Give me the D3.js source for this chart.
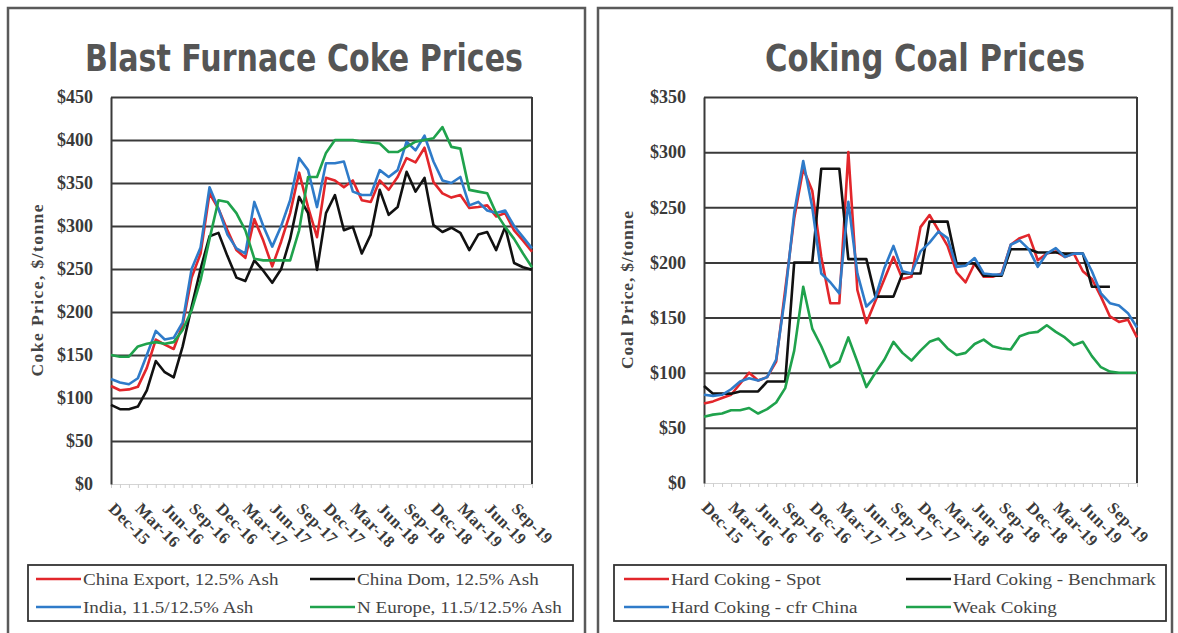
<!DOCTYPE html>
<html>
<head>
<meta charset="utf-8">
<script src="https://cdn.jsdelivr.net/npm/d3@7"></script>
<style>
  body { margin: 0; background: #fff; }
  svg { display: block; }
</style>
</head>
<body>
<svg id="chart" width="1178" height="633"></svg>
<script>
// quarterly tick labels shared by both charts (monthly points, Dec-15 onwards)
const tickLabels = ["Dec-15","Mar-16","Jun-16","Sep-16","Dec-16","Mar-17","Jun-17","Sep-17",
  "Dec-17","Mar-18","Jun-18","Sep-18","Dec-18","Mar-19","Jun-19","Sep-19"];

// Blast furnace coke, $/tonne, Dec-15 .. Nov-19
const cokeChinaExport = [114,109,110,113,135,168,162,157,185,240,268,338,320,295,272,263,308,283,253,282,
  315,362,322,287,356,353,345,353,330,328,353,342,357,379,374,391,351,338,333,336,321,322,324,311,315,295,283,270];
const cokeChinaDom = [92,87,87,90,109,143,130,124,160,206,250,288,292,265,240,236,260,248,234,250,
  285,334,315,249,315,336,295,299,268,290,342,313,322,363,340,356,301,293,298,292,272,290,293,272,299,257,252,249];
const cokeIndia = [122,118,116,123,150,178,168,170,188,250,275,345,320,290,274,268,328,300,276,300,
  330,379,365,322,373,373,375,340,336,336,365,357,365,398,388,405,375,353,350,357,324,328,318,315,318,300,287,274];
const cokeNEurope = [150,148,148,160,163,165,163,165,179,202,237,285,330,328,315,295,262,260,260,260,
  260,295,357,357,385,400,400,400,398,397,396,386,386,392,398,400,402,415,392,390,342,340,338,315,299,285,268,252];

// Coking coal, $/tonne, Dec-15 .. Dec-19
const coalSpot = [72,74,77,80,90,100,93,96,110,175,240,285,265,205,163,163,300,175,145,165,
  185,205,185,187,232,243,229,215,191,182,199,187,187,190,216,222,225,202,208,210,205,208,192,185,169,151,146,148,132];
const coalBenchmark = [88,81,81,81,83,83,83,92,92,92,200,200,200,285,285,285,203,203,203,169,
  169,169,190,190,190,237,237,237,199,199,199,188,188,188,212,212,212,209,209,209,208,208,208,178,178,178,null,null,null];
const coalCfrChina = [80,79,80,85,92,95,93,96,112,170,245,292,250,190,182,172,255,190,160,168,
  195,215,192,190,210,218,228,222,196,197,204,190,189,189,216,220,212,196,208,213,205,208,208,192,172,163,161,154,141];
const coalWeak = [60,62,63,66,66,68,63,67,73,86,120,178,140,124,105,110,132,110,87,100,
  112,128,118,111,120,128,131,122,116,118,126,130,124,122,121,133,136,137,143,137,132,125,128,115,105,101,100,100,100];

const RED = "#e2262b", BLACK = "#111", BLUE = "#2f7bc9", GREEN = "#1fa24c";
const SERIF = "Liberation Serif, Times New Roman, serif";

const svg = d3.select("#chart");

const panels = [
  {
    frame: { x: 8, y: 8, w: 577, h: 650 },
    plot: { left: 111, top: 97, right: 532, bottom: 484 },
    yMax: 450,
    title: "Blast Furnace Coke Prices", titleX: 304, titleLen: 438,
    yTitle: "Coke Price, $/tonne", yTitleX: 43, yTitleLen: 172,
    legend: { x: 28, y: 565, w: 545, h: 56, first: 36, col2: 274 },
    series: [
      { name: "China Export, 12.5% Ash", values: cokeChinaExport, color: RED },
      { name: "China Dom, 12.5% Ash", values: cokeChinaDom, color: BLACK },
      { name: "India, 11.5/12.5% Ash", values: cokeIndia, color: BLUE },
      { name: "N Europe, 11.5/12.5% Ash", values: cokeNEurope, color: GREEN }
    ]
  },
  {
    frame: { x: 598, y: 8, w: 574, h: 650 },
    plot: { left: 704, top: 97, right: 1137, bottom: 483 },
    yMax: 350,
    title: "Coking Coal Prices", titleX: 925, titleLen: 320,
    yTitle: "Coal Price, $/tonne", yTitleX: 633, yTitleLen: 158,
    legend: { x: 614, y: 565, w: 552, h: 56, first: 624, col2: 282 },
    series: [
      { name: "Hard Coking - Spot", values: coalSpot, color: RED },
      { name: "Hard Coking - Benchmark", values: coalBenchmark, color: BLACK },
      { name: "Hard Coking - cfr China", values: coalCfrChina, color: BLUE },
      { name: "Weak Coking", values: coalWeak, color: GREEN }
    ]
  }
];

panels.forEach(p => {
  const g = svg.append("g");
  const n = p.series[0].values.length;

  // panel border
  g.append("rect")
    .attr("x", p.frame.x).attr("y", p.frame.y)
    .attr("width", p.frame.w).attr("height", p.frame.h)
    .attr("fill", "#fff").attr("stroke", "#5a5a5a").attr("stroke-width", 2.5);

  g.append("text")
    .attr("x", p.titleX).attr("y", 71)
    .attr("text-anchor", "middle")
    .attr("font-family", "DejaVu Sans, Verdana, sans-serif")
    .attr("font-weight", "bold").attr("font-size", 37)
    .attr("fill", "#555")
    .attr("textLength", p.titleLen).attr("lengthAdjust", "spacingAndGlyphs")
    .text(p.title);

  const x = d3.scaleLinear().domain([0, n - 1]).range([p.plot.left, p.plot.right]);
  const y = d3.scaleLinear().domain([0, p.yMax]).range([p.plot.bottom, p.plot.top]);
  const yTicks = d3.range(0, p.yMax + 1, 50);

  // gridlines
  g.append("g")
    .attr("transform", `translate(${p.plot.left},0)`)
    .call(d3.axisLeft(y).tickValues(yTicks.filter(v => v > 0))
      .tickSize(-(p.plot.right - p.plot.left)).tickFormat(""))
    .call(a => a.select(".domain").remove())
    .call(a => a.selectAll("line").attr("stroke", "#3a3a3a").attr("stroke-width", 2));

  // right border
  g.append("line")
    .attr("x1", p.plot.right).attr("x2", p.plot.right)
    .attr("y1", p.plot.top).attr("y2", p.plot.bottom)
    .attr("stroke", "#3a3a3a").attr("stroke-width", 2);

  // x axis: faint monthly ticks, quarterly labels
  const xAxis = g.append("g")
    .attr("transform", `translate(0,${p.plot.bottom})`)
    .call(d3.axisBottom(x).tickValues(d3.range(n)).tickSize(4).tickPadding(0)
      .tickFormat(i => (i % 3 === 0 && tickLabels[i / 3]) ? tickLabels[i / 3] : ""));
  xAxis.select(".domain").attr("stroke", "#d4d4d4").attr("stroke-width", 1);
  xAxis.selectAll(".tick line").attr("stroke", "#cfcfcf");
  xAxis.selectAll(".tick text")
    .attr("fill", "#3a3a3a")
    .attr("font-family", SERIF)
    .attr("font-weight", "bold").attr("font-size", 16.5)
    .attr("letter-spacing", 0.4)
    .attr("text-anchor", "start")
    .attr("dy", null)
    .attr("transform", "translate(-1,23) rotate(45)");

  // y axis
  const yAxis = g.append("g")
    .attr("transform", `translate(${p.plot.left},0)`)
    .call(d3.axisLeft(y).tickValues(yTicks).tickSize(0).tickPadding(18)
      .tickFormat(d => "$" + d));
  yAxis.select(".domain").attr("stroke", "#3a3a3a").attr("stroke-width", 2);
  yAxis.selectAll("text")
    .attr("fill", "#3a3a3a")
    .attr("font-family", SERIF)
    .attr("font-weight", "bold").attr("font-size", 18);

  g.append("text")
    .attr("transform", `translate(${p.yTitleX},${(p.plot.top + p.plot.bottom) / 2}) rotate(-90)`)
    .attr("text-anchor", "middle")
    .attr("font-family", SERIF)
    .attr("font-weight", "bold").attr("font-size", 17.5)
    .attr("fill", "#444")
    .attr("textLength", p.yTitleLen).attr("lengthAdjust", "spacing")
    .text(p.yTitle);

  // series lines
  const line = d3.line()
    .defined(d => d != null)
    .x((d, i) => x(i))
    .y(d => y(d));

  p.series.forEach(s => {
    g.append("path")
      .datum(s.values)
      .attr("d", line)
      .attr("fill", "none")
      .attr("stroke", s.color)
      .attr("stroke-width", 2.6)
      .attr("stroke-linejoin", "round");
  });

  // legend
  const L = p.legend;
  g.append("rect")
    .attr("x", L.x).attr("y", L.y).attr("width", L.w).attr("height", L.h)
    .attr("fill", "#fff").attr("stroke", "#333").attr("stroke-width", 1.8);
  p.series.forEach((s, k) => {
    const lx = L.first + (k % 2) * L.col2;
    const ly = L.y + 14 + Math.floor(k / 2) * 28;
    g.append("line")
      .attr("x1", lx).attr("x2", lx + 45)
      .attr("y1", ly).attr("y2", ly)
      .attr("stroke", s.color).attr("stroke-width", 2.6);
    g.append("text")
      .attr("transform", `translate(${lx + 47},${ly + 6}) scale(1.09,1)`)
      .attr("font-family", SERIF)
      .attr("font-size", 17.5).attr("fill", "#444")
      .text(s.name);
  });
});
</script>
</body>
</html>
